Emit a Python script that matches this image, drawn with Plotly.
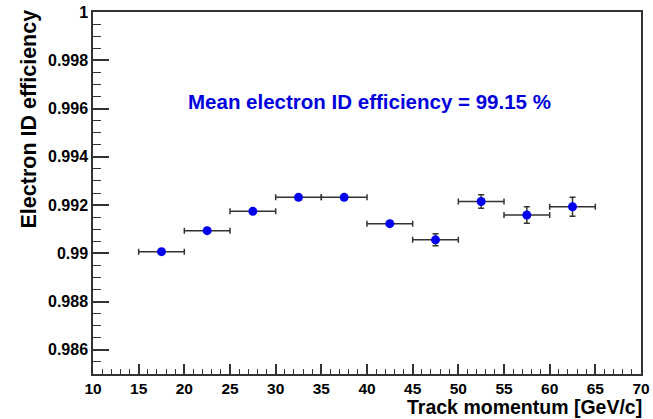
import plotly.graph_objects as go

momentum = [17.5, 22.5, 27.5, 32.5, 37.5, 42.5, 47.5, 52.5, 57.5, 62.5]
bin_half_width = [2.5] * 10
efficiency = [0.99007, 0.99094, 0.99174, 0.99232, 0.99232, 0.99123, 0.99056, 0.99215, 0.99159, 0.99193]
eff_err = [0.00006, 0.00006, 0.00006, 0.00007, 0.00007, 0.00010, 0.00025, 0.00028, 0.00034, 0.00039]
y_tickvals = [0.986, 0.988, 0.990, 0.992, 0.994, 0.996, 0.998, 1.0]
y_ticktext = ["0.986", "0.988", "0.99", "0.992", "0.994", "0.996", "0.998", "1"]
x_tickvals = [10, 15, 20, 25, 30, 35, 40, 45, 50, 55, 60, 65, 70]
mean_text = "Mean electron ID efficiency = 99.15 %"

FONT = "Liberation Sans"
AX = "#333333"
L, R, T, B = 93, 641, 12, 374
PW, PH = R - L, B - T

fig = go.Figure()
fig.add_trace(go.Scatter(
    x=momentum, y=efficiency, mode="markers",
    marker=dict(color="#0000ee", size=9),
    error_x=dict(type="data", array=bin_half_width, color=AX, thickness=1.5, width=3),
    error_y=dict(type="data", array=eff_err, color=AX, thickness=1.5, width=3),
    showlegend=False,
))

fig.update_layout(
    width=653, height=419,
    margin=dict(l=L, r=653 - R, t=T, b=419 - B, autoexpand=False),
    paper_bgcolor="white", plot_bgcolor="white",
    font=dict(family=FONT, color="black", size=16, weight="bold"),
    xaxis=dict(
        range=[10, 70], tickvals=x_tickvals, ticks="inside", ticklen=10, tickwidth=1.5,
        tickcolor=AX, showline=True, linecolor=AX, linewidth=1.5, mirror=True,
        showgrid=False, zeroline=False, automargin=False,
        minor=dict(dtick=1, tick0=10, ticks="inside", ticklen=5, tickwidth=1, tickcolor=AX, showgrid=False),
        tickfont=dict(family=FONT, size=15.5, weight="bold"),
    ),
    yaxis=dict(
        range=[0.985, 1.0], tickvals=y_tickvals, ticktext=y_ticktext, ticks="inside",
        ticklen=16, tickwidth=1.5, tickcolor=AX, showline=True, linecolor=AX, linewidth=1.5,
        mirror=True, showgrid=False, zeroline=False, automargin=False,
        minor=dict(dtick=0.0005, tick0=0.985, ticks="inside", ticklen=8, tickwidth=1, tickcolor=AX, showgrid=False),
        tickfont=dict(family=FONT, size=16, weight="bold"),
    ),
    annotations=[
        dict(text=mean_text, xref="paper", yref="paper", x=(369.5 - L) / PW, y=(B - 101.5) / PH,
             showarrow=False, xanchor="center", yanchor="middle",
             font=dict(family=FONT, size=20.5, color="#0000dd", weight="bold")),
        dict(text="Electron ID efficiency", xref="paper", yref="paper", x=(28 - L) / PW, y=(B - 8) / PH,
             showarrow=False, xanchor="center", yanchor="top", textangle=-90,
             font=dict(family=FONT, size=21.5, color="black", weight="bold")),
        dict(text="Track momentum [GeV/c]", xref="paper", yref="paper", x=(643 - L) / PW, y=(B - 419) / PH,
             showarrow=False, xanchor="right", yanchor="bottom", borderpad=0,
             font=dict(family=FONT, size=19.5, color="black", weight="bold")),
    ],
)

fig.write_html("out.html")
